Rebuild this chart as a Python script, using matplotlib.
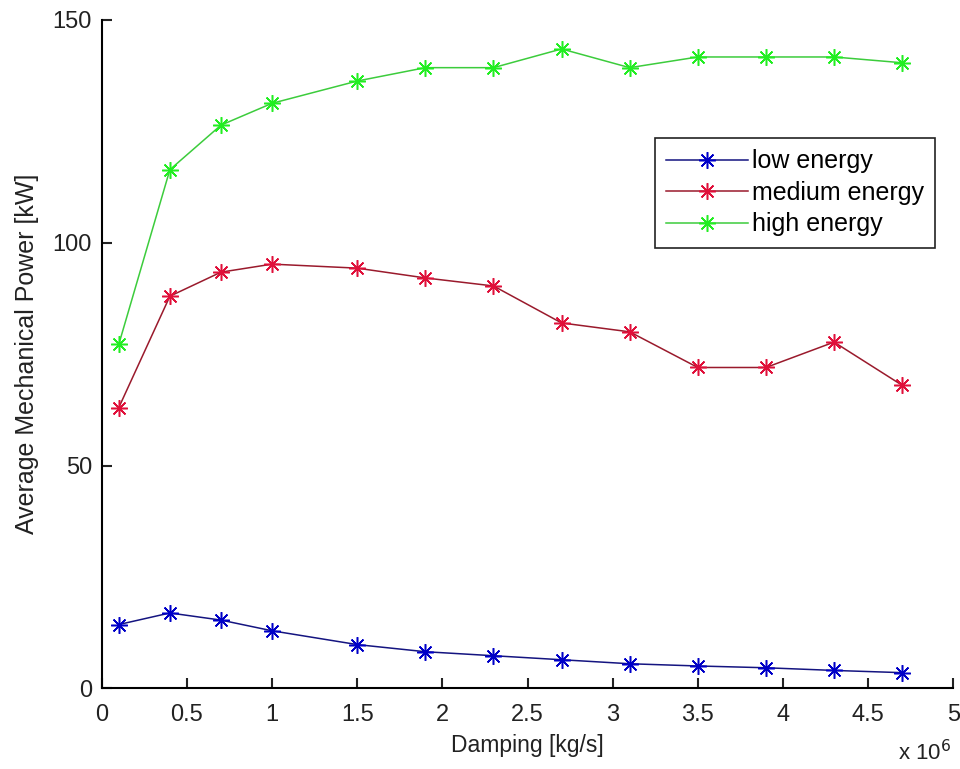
import matplotlib.pyplot as plt
import numpy as np

plt.rcParams['font.family'] = ['Liberation Sans', 'DejaVu Sans']

damping = np.array([0.1, 0.4, 0.7, 1.0, 1.5, 1.9, 2.3, 2.7, 3.1, 3.5, 3.9, 4.3, 4.7])
low = np.array([14.3, 16.9, 15.3, 12.9, 9.8, 8.2, 7.3, 6.4, 5.5, 5.0, 4.6, 4.0, 3.5])
medium = np.array([63, 88, 93.4, 95.2, 94.3, 92.1, 90.3, 82, 80, 72, 72, 77.7, 68])
high = np.array([77.2, 116.4, 126.4, 131.3, 136.3, 139.3, 139.3, 143.5, 139.3, 141.7, 141.7, 141.7, 140.4])

names = ['low energy', 'medium energy', 'high energy']
line_colors = ['#141480', '#9a1a2c', '#3ccc3c']
marker_colors = ['#0000c8', '#e0103a', '#22ee22']

fig = plt.figure(figsize=(9.6, 7.69), dpi=100)
ax = fig.add_axes([0.106, 0.105, 0.887, 0.869])

for y, name, lc, mc in zip([low, medium, high], names, line_colors, marker_colors):
    ax.plot(damping, y, color=lc, marker=(8, 2, 0), markersize=12, linewidth=1.1,
            markeredgewidth=1.1, markeredgecolor=mc, markerfacecolor=mc, label=name)

ax.set_xlim(0, 5)
ax.set_ylim(0, 150)
ax.set_xticks(np.arange(0, 5.01, 0.5))
ax.set_xticklabels(['0', '0.5', '1', '1.5', '2', '2.5', '3', '3.5', '4', '4.5', '5'])
ax.set_yticks([0, 50, 100, 150])

ax.spines['top'].set_visible(False)
ax.spines['right'].set_visible(False)
ax.spines['left'].set_linewidth(1.5)
ax.spines['bottom'].set_linewidth(1.5)
ax.tick_params(direction='in', length=7, width=1.5, labelsize=17, colors='#222222')
ax.tick_params(axis='x', pad=11)
ax.tick_params(axis='y', pad=7)

ax.set_xlabel('Damping [kg/s]', fontsize=16.5, color='#222222', labelpad=6)
ax.set_ylabel('Average Mechanical Power [kW]', fontsize=18, color='#222222', labelpad=10)
ax.text(0.998, -0.096, r'x 10$^6$', transform=ax.transAxes, ha='right', va='center',
        fontsize=16, color='#222222')

leg = ax.legend(loc='upper left', bbox_to_anchor=(0.682, 0.8205), bbox_transform=fig.transFigure,
                borderaxespad=0, fontsize=18, frameon=True, fancybox=False,
                edgecolor='#222222', framealpha=1, handlelength=3.3,
                borderpad=0.45, labelspacing=0.3, handletextpad=0.15)
leg.get_frame().set_linewidth(1.2)

fig.savefig('out.png', dpi=100)
